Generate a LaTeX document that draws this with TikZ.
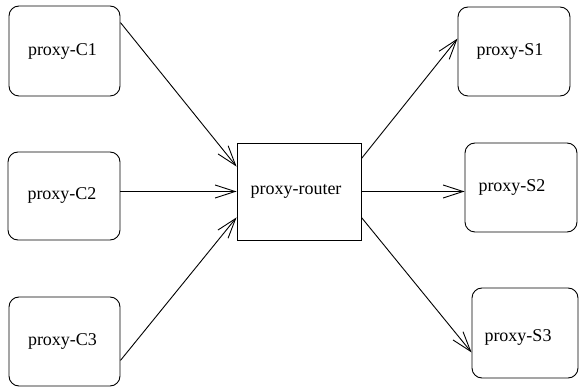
\documentclass[tikz,border=0pt]{standalone}
\usepackage{fontspec}
\setmainfont{Liberation Serif}
\usetikzlibrary{arrows.meta,calc}
\begin{document}
\begin{tikzpicture}[x=1pt,y=-1pt,
  box/.style={draw,line width=0.9pt,rounded corners=10pt,inner sep=0pt},
  rbox/.style={draw,line width=0.9pt,inner sep=0pt},
  conn/.style={line width=0.9pt,-{Straight Barb[length=20pt,width=13pt,line width=0.9pt]}},
  every label/.style={font=\fontsize{18}{20}\selectfont,inner sep=0pt}]
\useasboundingbox (0,0) rectangle (579,387);
\node[box,minimum width=111pt,minimum height=90pt,label={[xshift=-2pt]center:proxy-C1}] (C1) at (64.5,51) {};
\node[box,minimum width=112pt,minimum height=88pt,label={[xshift=-2pt,yshift=1pt]center:proxy-C2}] (C2) at (64,196) {};
\node[box,minimum width=111pt,minimum height=89pt,label={[xshift=-2pt]center:proxy-C3}] (C3) at (64.5,341.5) {};
\node[rbox,minimum width=124pt,minimum height=97pt,label={[xshift=-3pt]center:proxy-router}] (R) at (299,191.5) {};
\node[box,minimum width=112pt,minimum height=89pt,label={[xshift=-4pt]center:proxy-S1}] (S1) at (514,51.5) {};
\node[box,minimum width=112pt,minimum height=89pt,label={[xshift=-9pt]center:proxy-S2}] (S2) at (521,187.5) {};
\node[box,minimum width=106pt,minimum height=90pt,label={[xshift=-7pt,yshift=-4pt]center:proxy-S3}] (S3) at (525,333) {};
\draw[conn] ($(C1.north east)+(0,17)$) -- ($(R.north west)+(0,24)$);
\draw[conn] (R.west -| C2.east) -- (R.west);
\draw[conn] ($(C3.south east)+(0,-26)$) -- ($(R.south west)+(0,-23)$);
\draw[conn] ($(R.north east)+(0,16)$) -- ($(S1.north west)+(0,32)$);
\draw[conn] (R.east) -- (R.east -| S2.west);
\draw[conn] ($(R.south east)+(0,-23)$) -- ($(S3.south west)+(0,-26)$);
\end{tikzpicture}
\end{document}
